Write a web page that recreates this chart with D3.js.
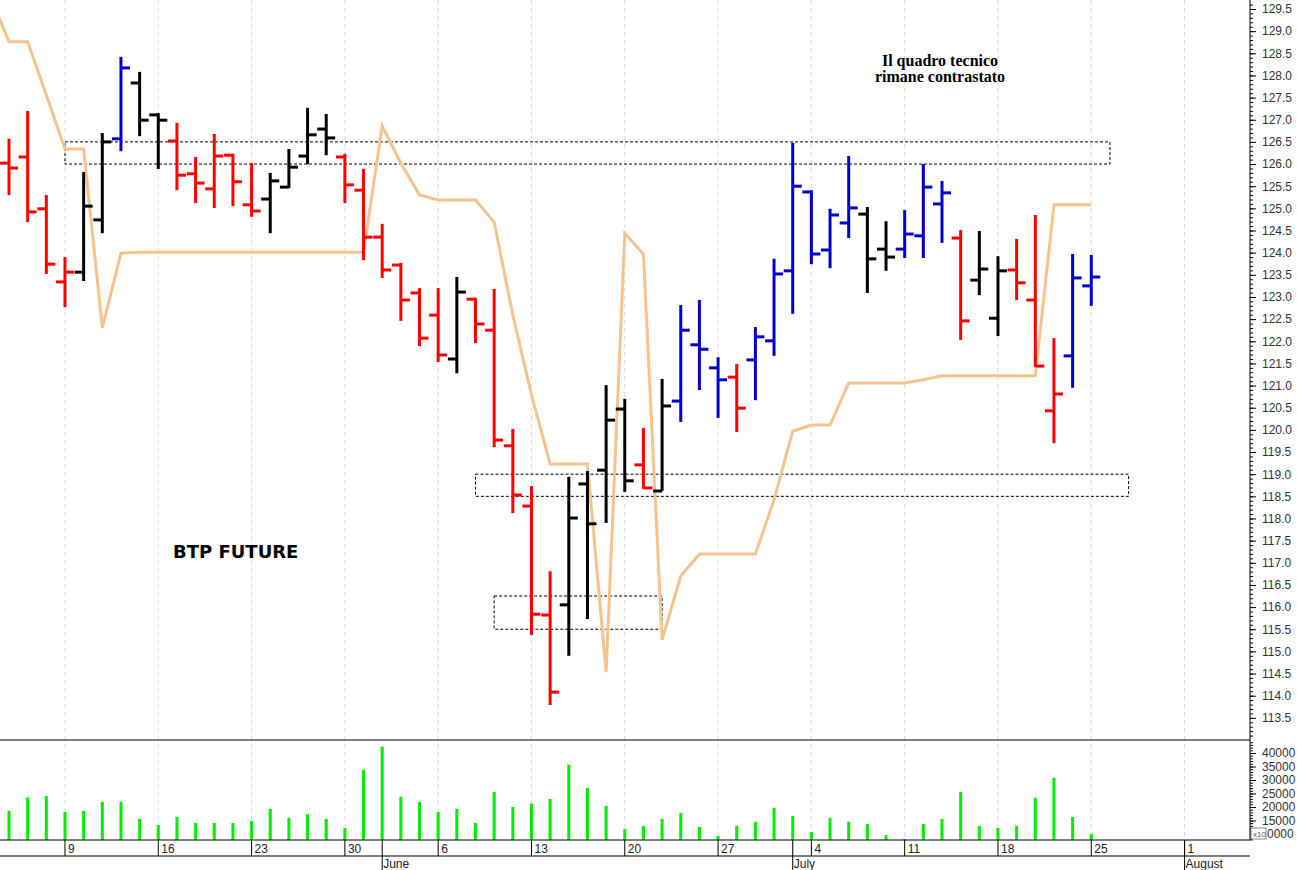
<!DOCTYPE html>
<html><head><meta charset="utf-8">
<script src="https://cdn.jsdelivr.net/npm/d3@7"></script>
<style>body{margin:0;background:#fff}svg{display:block}</style>
</head><body>
<script>
// ---- data ----
const opens  = [126.02,126.16,124.99,123.34,123.56,124.74,126.57,127.83,127.11,126.52,125.78,125.44,126.20,125.08,125.21,125.48,126.18,126.79,126.16,125.41,124.35,123.72,123.09,122.59,121.60,122.95,122.25,119.64,118.28,115.82,116.05,118.78,119.09,120.47,119.21,118.62,120.65,121.92,121.40,121.19,121.58,122.01,123.59,125.37,124.06,124.67,124.87,124.08,124.08,124.38,125.10,124.33,123.38,122.52,123.61,122.93,120.43,121.67,123.25];
const highs  = [126.57,127.20,125.30,123.90,125.82,126.70,128.42,128.08,127.15,126.93,126.16,126.68,126.23,126.02,125.80,126.34,127.27,127.13,126.23,125.89,124.65,123.77,123.20,123.20,123.45,122.98,123.18,120.02,118.73,116.81,118.94,119.07,121.01,120.70,120.04,121.15,122.82,122.93,121.64,121.49,122.32,123.86,126.48,125.41,124.99,126.18,125.03,124.71,124.96,126.00,125.62,124.51,124.49,123.92,124.31,124.85,122.07,123.97,123.95];
const lows   = [125.30,124.69,123.52,122.77,123.36,124.44,126.29,126.63,125.89,125.41,125.12,125.01,125.05,124.81,124.44,125.46,126.00,126.20,125.12,123.83,123.43,122.46,121.89,121.53,121.28,121.96,119.61,118.12,115.37,113.79,114.90,115.73,117.90,118.60,118.67,118.62,120.18,120.90,120.27,119.95,120.67,121.67,122.62,123.74,123.65,124.33,123.09,123.59,123.88,123.88,124.22,122.03,123.04,122.12,122.93,121.42,119.70,120.95,122.80];
const closes = [125.91,124.92,123.74,123.56,125.05,126.50,128.17,126.99,126.99,125.75,125.57,126.18,125.60,124.94,125.62,125.93,126.66,126.59,125.53,124.35,123.61,122.93,122.07,121.69,123.11,122.39,119.77,118.53,115.84,114.08,118.01,117.88,120.22,118.85,118.69,120.54,122.25,121.82,121.13,120.49,122.10,123.52,125.50,123.97,124.85,125.01,123.86,123.90,124.42,125.48,125.35,122.46,123.63,123.59,123.32,121.44,120.81,123.43,123.45];
// signal: d = down (red), n = neutral (black), u = up (blue)
const signals = "ddddnnunnddddd nnnndddddd nddddd nnnndnuuuduuuuuunnuuudnndddu u".replace(/ /g,"").split("");
const volumes = [18560,23500,24100,18200,18560,21900,21900,15600,13350,16300,14100,14100,14100,14800,19300,16000,17400,15600,12200,33800,42400,23800,21900,18200,19300,14100,25600,20000,21200,23000,35700,27100,20400,11900,13000,15600,17800,12600,9300,13000,14500,19700,16700,10700,16000,14500,13700,9600,8100,13700,15600,25600,13000,12200,13000,23400,30800,16300,10000];
// indicator line (starts one bar before the first bar)
const stopLine = [129.78,128.76,128.76,127.56,126.34,126.34,122.30,123.99,124.01,124.01,124.01,124.01,124.01,124.01,124.01,124.01,124.01,124.01,124.01,124.01,124.01,126.86,126.02,125.30,125.19,125.19,125.19,124.69,122.59,120.79,119.23,119.23,119.23,114.53,124.44,123.97,115.26,116.70,117.20,117.20,117.20,117.20,118.42,119.97,120.11,120.11,121.06,121.06,121.06,121.06,121.13,121.22,121.22,121.22,121.22,121.22,121.22,125.08,125.08,125.08];
const zones = [[3,59,126.5,126.0],[25,60,119.0,118.5],[26,35,116.25,115.5]];
const dayTickIdx = [3,8,13,18,23,28,33,38,43,48,53,58,63];
const dayTickLabels = ["9","16","23","30","6","13","20","27","4","11","18","25","1"];
const monthIdx = [20,42,63];
const monthLabels = ["June","July","August"];
const priceTicks = d3.range(113.5, 129.51, 0.5);
const volTicks = [10000,15000,20000,25000,30000,35000,40000];

// ---- drawing ----
const W=1297,H=870, axisX=1250;
const colors={d:"#ff0000",n:"#000000",u:"#0000cc"};
const svg=d3.select("body").append("svg").attr("width",W).attr("height",H);
const x=d3.scaleLinear().domain([0,1]).range([9,27.66]);
const y=d3.scaleLinear().domain([113.0,129.703]).range([740,0]);
const yv=d3.scaleLinear().domain([7778,44815]).range([840,740]);
const font="Liberation Sans, Arial, sans-serif";

// grid
dayTickIdx.forEach(i=>{
  svg.append("line").attr("x1",x(i)).attr("x2",x(i)).attr("y1",0).attr("y2",840)
   .attr("stroke","#d8d8d8").attr("stroke-dasharray","4,4");
});
// zones
zones.forEach(z=>{
  svg.append("rect").attr("x",x(z[0])).attr("y",y(z[2])).attr("width",x(z[1])-x(z[0]))
   .attr("height",y(z[3])-y(z[2])).attr("fill","none").attr("stroke","#000").attr("stroke-dasharray","3,2").attr("stroke-width",1);
});
// indicator
svg.append("path").datum(stopLine).attr("fill","none").attr("stroke","#f5c48e").attr("stroke-width",3)
 .attr("d",d3.line().x((d,i)=>x(i-1)).y(d=>y(d)));
// bars
const g=svg.append("g");
opens.forEach((o,i)=>{
  const c=colors[signals[i]], xx=x(i);
  g.append("line").attr("x1",xx).attr("x2",xx).attr("y1",y(highs[i])).attr("y2",y(lows[i])).attr("stroke",c).attr("stroke-width",3);
  g.append("line").attr("x1",xx-9).attr("x2",xx).attr("y1",y(o)).attr("y2",y(o)).attr("stroke",c).attr("stroke-width",3);
  g.append("line").attr("x1",xx).attr("x2",xx+9).attr("y1",y(closes[i])).attr("y2",y(closes[i])).attr("stroke",c).attr("stroke-width",3);
});
// volume
volumes.forEach((v,i)=>{
  svg.append("rect").attr("x",x(i)-1.5).attr("width",3).attr("y",yv(v)).attr("height",840-yv(v)).attr("fill","#00ee00");
});
// frame lines
[740,840,856].forEach(yy=>svg.append("line").attr("x1",0).attr("x2",axisX).attr("y1",yy).attr("y2",yy).attr("stroke","#000"));
svg.append("line").attr("x1",axisX).attr("x2",axisX).attr("y1",0).attr("y2",840).attr("stroke","#000");
// right axes
const pa=svg.append("g").attr("transform",`translate(${axisX},0)`)
 .call(d3.axisRight(y).tickValues(priceTicks).tickFormat(d3.format(".1f")).tickSize(6).tickPadding(6));
const pm=svg.append("g").attr("transform",`translate(${axisX},0)`)
 .call(d3.axisRight(y).tickValues(d3.range(113.1,129.7,0.1)).tickFormat("").tickSize(3));
const va=svg.append("g").attr("transform",`translate(${axisX},0)`)
 .call(d3.axisRight(yv).tickValues(volTicks).tickFormat(d=>d===10000?"0000":d3.format("d")(d)).tickSize(6).tickPadding(6));
const vm=svg.append("g").attr("transform",`translate(${axisX},0)`)
 .call(d3.axisRight(yv).tickValues(d3.range(8000,44001,1000)).tickFormat("").tickSize(3));
[pa,pm,va,vm].forEach(a=>{a.select(".domain").remove();a.selectAll("text").attr("font-family",font).attr("font-size",12).attr("fill","#333");});
va.selectAll("text").filter(d=>d===10000).attr("x",17);
svg.append("rect").attr("x",1251).attr("y",828).attr("width",15).attr("height",11).attr("fill","#fff").attr("stroke","#555").attr("stroke-width",0.7);
svg.append("text").attr("x",1253).attr("y",837).attr("font-family",font).attr("font-size",8).attr("fill","#555").text("x10");
// bottom axis
dayTickIdx.forEach((i,k)=>{
  svg.append("line").attr("x1",x(i)).attr("x2",x(i)).attr("y1",840).attr("y2",856).attr("stroke","#000");
  svg.append("text").attr("x",x(i)+3).attr("y",853).attr("font-family",font).attr("font-size",12).attr("fill","#222").text(dayTickLabels[k]);
});
monthIdx.forEach((i,k)=>{
  svg.append("line").attr("x1",x(i)).attr("x2",x(i)).attr("y1",840).attr("y2",870).attr("stroke","#000");
  svg.append("text").attr("x",x(i)+1).attr("y",868).attr("font-family",font).attr("font-size",12).attr("fill","#222").text(monthLabels[k]);
});
// texts
svg.append("text").attr("x",173).attr("y",558).attr("font-family","DejaVu Sans, sans-serif").attr("font-weight","bold").attr("font-size",18).text("BTP FUTURE");
svg.append("text").attr("x",940).attr("y",66).attr("text-anchor","middle").attr("font-family","Liberation Serif, serif").attr("font-weight","bold").attr("font-size",16).text("Il quadro tecnico");
svg.append("text").attr("x",940).attr("y",82).attr("text-anchor","middle").attr("font-family","Liberation Serif, serif").attr("font-weight","bold").attr("font-size",16).text("rimane contrastato");
</script>
</body></html>
